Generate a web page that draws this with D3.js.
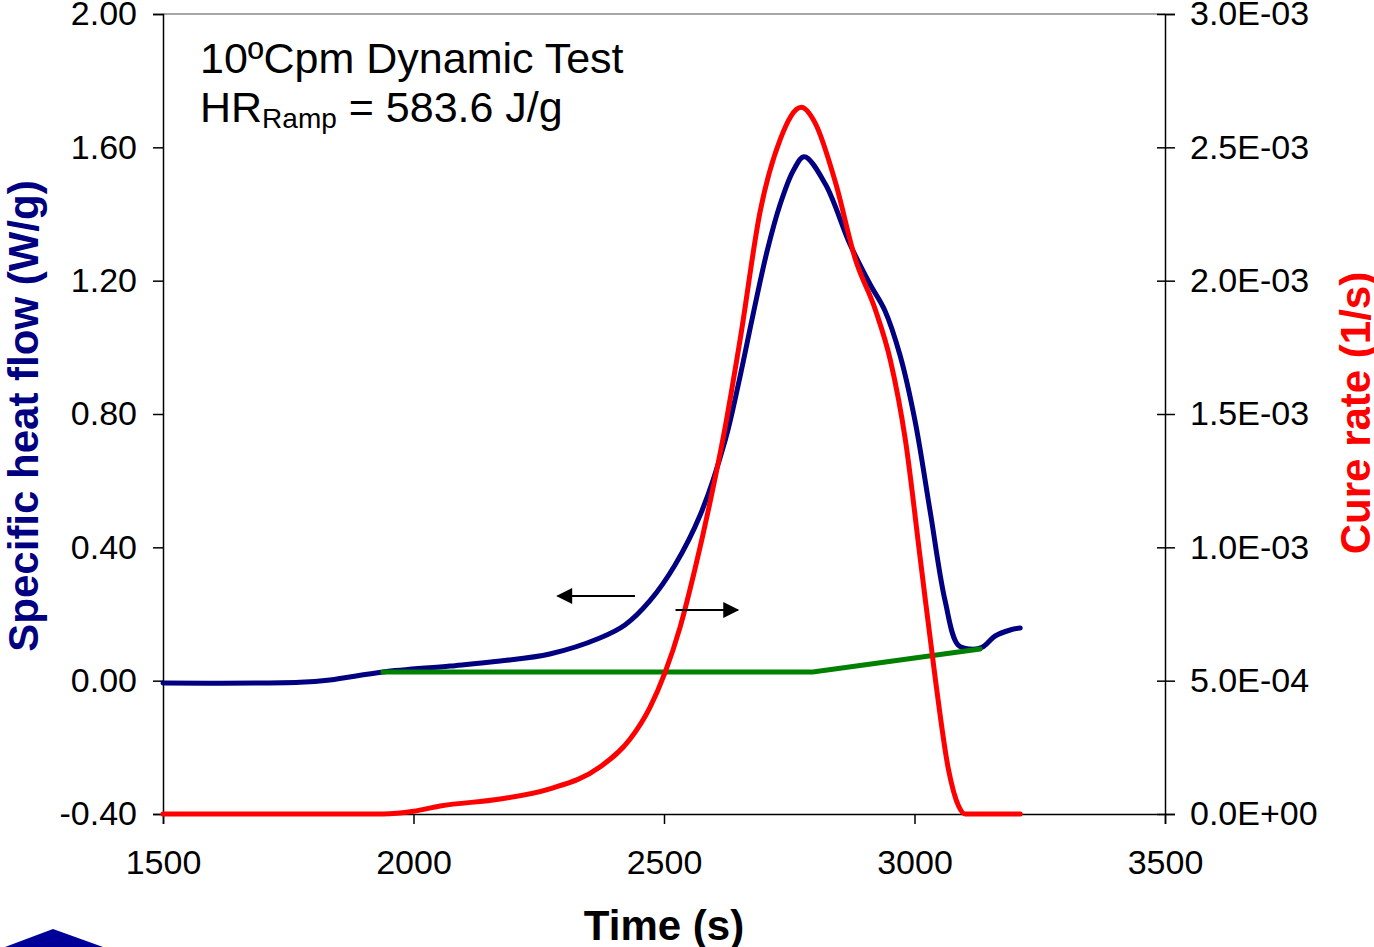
<!DOCTYPE html>
<html><head><meta charset="utf-8">
<script src="https://cdn.jsdelivr.net/npm/d3@7"></script>
<style>body{margin:0;background:#fff;} text{font-family:"Liberation Sans",Arial,sans-serif;}</style>
</head><body>
<svg id="c" width="1374" height="947"></svg>
<script>
// Heat flow (W/g) vs time (s)
const heatTime = [1500,1773,1833,1939,2073,2173,2272,2372,2422,2472,2522,2572,2622,2650,2678,2706,2732,2758,2780,2822,2871,2911,2941,2971,3001,3031,3061,3087,3111,3135,3161,3191,3211];
const heatFlow = [-0.007,-0.005,0.002,0.026,0.044,0.059,0.080,0.128,0.167,0.240,0.347,0.496,0.720,0.900,1.100,1.290,1.430,1.530,1.572,1.490,1.310,1.190,1.110,0.977,0.780,0.510,0.240,0.107,0.095,0.100,0.134,0.152,0.158];
// Cure rate (1/s) vs time (s)
const cureTime = [1500,1700,1939,2000,2053,2173,2272,2372,2432,2472,2502,2532,2562,2592,2622,2652,2692,2732,2774,2802,2842,2882,2922,2952,2982,3012,3042,3068,3088,3101,3150,3211];
const cureRate = [0,0,0,0.00001,0.00003,0.000056,0.000094,0.000176,0.00028,0.0004,0.00053,0.0007,0.00092,0.00117,0.00145,0.00178,0.00226,0.00253,0.00265,0.00259,0.00237,0.00208,0.00189,0.0017,0.0014,0.00095,0.0005,0.000165,0.00003,0,0,0];
// Baseline (W/g)
const baseTime = [1939,2797,3131];
const baseFlow = [0.026,0.026,0.095];
// Ticks
const xTicks = [1500,2000,2500,3000,3500];
const yLeftTicks = [-0.4,0,0.4,0.8,1.2,1.6,2.0];
const yLeftLabels = ["-0.40","0.00","0.40","0.80","1.20","1.60","2.00"];
const yRightTicks = [0,0.0005,0.001,0.0015,0.002,0.0025,0.003];
const yRightLabels = ["0.0E+00","5.0E-04","1.0E-03","1.5E-03","2.0E-03","2.5E-03","3.0E-03"];
// Arrows annotations: [t0,t1,value]
const arrows = [[2442,2288,0.254],[2523,2647,0.212]];

const svg = d3.select("#c");
const L=163,R=1165,T=14,B=814;
const x = d3.scaleLinear().domain([1500,3500]).range([L,R]);
const yL = d3.scaleLinear().domain([-0.4,2.0]).range([B,T]);
const yR = d3.scaleLinear().domain([0,0.003]).range([B,T]);

svg.append("defs").append("marker").attr("id","ah").attr("viewBox","0 0 10 10").attr("refX",9).attr("refY",5)
 .attr("markerWidth",18).attr("markerHeight",16).attr("markerUnits","userSpaceOnUse").attr("orient","auto")
 .append("path").attr("d","M0,0L10,5L0,10Z").attr("fill","#000");

// top frame line
svg.append("line").attr("x1",L).attr("x2",R).attr("y1",T).attr("y2",T).attr("stroke","#888").attr("stroke-width",1.5);

const fs = 34;
const gl = svg.append("g").attr("transform",`translate(${L},0)`)
 .call(d3.axisLeft(yL).tickValues(yLeftTicks).tickFormat((d,i)=>yLeftLabels[i]).tickSize(10).tickPadding(16));
const gb = svg.append("g").attr("transform",`translate(0,${B})`)
 .call(d3.axisBottom(x).tickValues(xTicks).tickFormat(d3.format("d")).tickSize(10).tickPadding(26));
const gr = svg.append("g").attr("transform",`translate(${R},0)`)
 .call(d3.axisRight(yR).tickValues(yRightTicks).tickFormat((d,i)=>yRightLabels[i]).tickSize(10).tickPadding(15));
gr.selectAll(".tick line").attr("x1",-8);
[gl,gb,gr].forEach(g=>{
  g.select(".domain").attr("stroke","#000").attr("stroke-width",1.5);
  g.selectAll(".tick line").attr("stroke","#000").attr("stroke-width",1.5);
  g.selectAll("text").attr("font-size",fs).attr("fill","#000").style("font-family","Liberation Sans, Arial, sans-serif");
});
gb.selectAll("text").attr("dy","0.71em");

// lines
const lineHeat = d3.line().x((d,i)=>x(heatTime[i])).y((d,i)=>yL(heatFlow[i])).curve(d3.curveCatmullRom.alpha(0.5));
const lineCure = d3.line().x((d,i)=>x(cureTime[i])).y((d,i)=>yR(cureRate[i])).curve(d3.curveMonotoneX);
const lineBase = d3.line().x((d,i)=>x(baseTime[i])).y((d,i)=>yL(baseFlow[i]));

svg.append("path").datum(heatFlow).attr("d",lineHeat).attr("fill","none").attr("stroke","#000080").attr("stroke-width",5).attr("stroke-linecap","round").attr("stroke-linejoin","round");
svg.append("path").datum(baseFlow).attr("d",lineBase).attr("fill","none").attr("stroke","#008000").attr("stroke-width",5).attr("stroke-linecap","round");
svg.append("path").datum(cureRate).attr("d",lineCure).attr("fill","none").attr("stroke","#ff0000").attr("stroke-width",5).attr("stroke-linecap","round").attr("stroke-linejoin","round");

// arrows
arrows.forEach(a=>{
  svg.append("line").attr("x1",x(a[0])).attr("x2",x(a[1])).attr("y1",yL(a[2])).attr("y2",yL(a[2]))
   .attr("stroke","#000").attr("stroke-width",2).attr("marker-end","url(#ah)");
});

// annotation text
svg.append("text").attr("x",200).attr("y",73).attr("font-size",43).attr("fill","#000").text("10ºCpm Dynamic Test");
const t2 = svg.append("text").attr("x",200).attr("y",122).attr("font-size",43).attr("fill","#000");
t2.append("tspan").text("HR");
t2.append("tspan").attr("font-size",28).attr("dy",6).text("Ramp");
t2.append("tspan").attr("dy",-6).text(" = 583.6 J/g");

// axis titles
svg.append("text").attr("x",x(2500)).attr("y",940).attr("text-anchor","middle").attr("font-size",42).attr("font-weight","bold").attr("fill","#000").text("Time (s)");
svg.append("text").attr("transform","translate(38,416) rotate(-90)").attr("text-anchor","middle").attr("font-size",42).attr("font-weight","bold").attr("fill","#000080").text("Specific heat flow (W/g)");
svg.append("text").attr("transform","translate(1370,413) rotate(-90)").attr("text-anchor","middle").attr("font-size",42).attr("font-weight","bold").attr("fill","#ff0000").text("Cure rate (1/s)");

// logo fragment
svg.append("path").attr("d","M5,947 L53,929 L103,947 Z").attr("fill","#000099");
</script>
</body></html>
